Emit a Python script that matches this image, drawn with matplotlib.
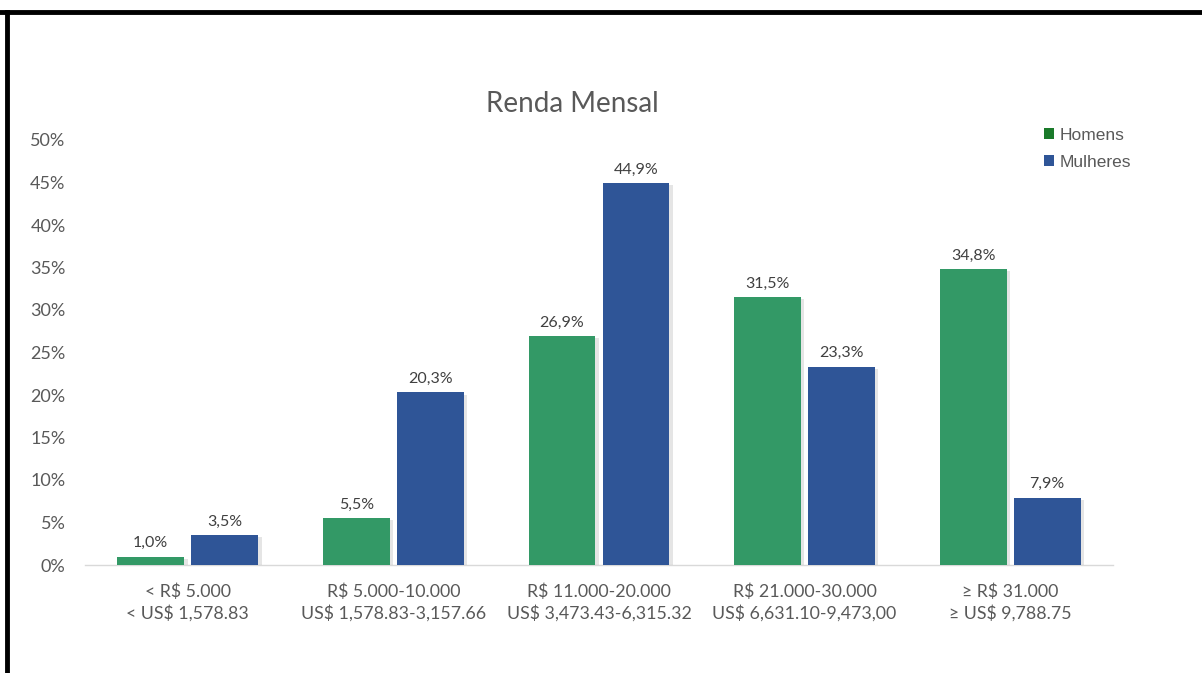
import matplotlib
matplotlib.use("Agg")
import matplotlib.pyplot as plt
import matplotlib.patheffects as pe
from matplotlib.patches import Patch
import numpy as np

plt.rcParams['font.family'] = ['Lato', 'DejaVu Sans']

categories = [
    "< R$ 5.000\n< US$ 1,578.83",
    "R$ 5.000-10.000\nUS$ 1,578.83-3,157.66",
    "R$ 11.000-20.000\nUS$ 3,473.43-6,315.32",
    "R$ 21.000-30.000\nUS$ 6,631.10-9,473,00",
    "\u2265 R$ 31.000\n\u2265 US$ 9,788.75",
]
homens = [1.0, 5.5, 26.9, 31.5, 34.8]
mulheres = [3.5, 20.3, 44.9, 23.3, 7.9]
yticks = [0, 5, 10, 15, 20, 25, 30, 35, 40, 45, 50]

green = "#339966"
blue = "#2f5597"
text_gray = "#595959"

fig = plt.figure(figsize=(12.02, 6.73), dpi=100)
fig.patch.set_facecolor("white")

# frame lines along top and left edges of the image
fig.add_artist(plt.Line2D([0.0, 1.0], [1 - 12 / 673, 1 - 12 / 673], color="black", lw=3.5,
                          transform=fig.transFigure))
fig.add_artist(plt.Line2D([7 / 1202, 7 / 1202], [0.0, 1 - 12 / 673], color="black", lw=3.5,
                          transform=fig.transFigure))

ax = fig.add_axes([85 / 1202, 1 - 565 / 673, (1113 - 85) / 1202, (565 - 140) / 673])
x = np.arange(len(categories))
w = 0.325
off = 0.0175 + w / 2
shadow = [pe.SimplePatchShadow(offset=(2.5, -1.5), shadow_rgbFace="#aaaaaa", alpha=0.3), pe.Normal()]

b1 = ax.bar(x - off, homens, w, color=green, zorder=3)
b2 = ax.bar(x + off, mulheres, w, color=blue, zorder=3)
for bars in (b1, b2):
    for b in bars:
        b.set_path_effects(shadow)

for xi, v in zip(x - off, homens):
    ax.text(xi, v + 0.8, f"{v:.1f}%".replace(".", ","), ha="center", va="bottom",
            fontsize=11.5, color="#404040")
for xi, v in zip(x + off, mulheres):
    ax.text(xi, v + 0.8, f"{v:.1f}%".replace(".", ","), ha="center", va="bottom",
            fontsize=11.5, color="#404040")

ax.set_xlim(-0.5, 4.5)
ax.set_ylim(0, 50)
ax.set_yticks(yticks)
ax.set_yticklabels([f"{t}%" for t in yticks], fontsize=13, color=text_gray)
ax.set_xticks(x)
ax.set_xticklabels(categories, fontsize=12.8, color=text_gray, linespacing=1.4)
ax.tick_params(axis="both", length=0)
ax.tick_params(axis="y", pad=14)
ax.tick_params(axis="x", pad=13)
for s in ("top", "right", "left"):
    ax.spines[s].set_visible(False)
ax.spines["bottom"].set_color("#d9d9d9")
ax.spines["bottom"].set_linewidth(1)

fig.text(572 / 1202, 1 - 104 / 673, "Renda Mensal", ha="center", va="center",
         fontsize=20, color=text_gray)

handles = [Patch(facecolor="#1a7a2a", label="Homens"), Patch(facecolor=blue, label="Mulheres")]
leg = fig.legend(handles=handles, loc="upper left", bbox_to_anchor=(1044 / 1202, 1 - 128 / 673),
                 frameon=False, prop={"family": "Liberation Sans", "size": 12.5},
                 handlelength=0.6, handleheight=0.6, handletextpad=0.3, labelspacing=0.68,
                 borderaxespad=0, borderpad=0)
for t in leg.get_texts():
    t.set_color(text_gray)

fig.savefig("out.png", dpi=100, facecolor="white")
